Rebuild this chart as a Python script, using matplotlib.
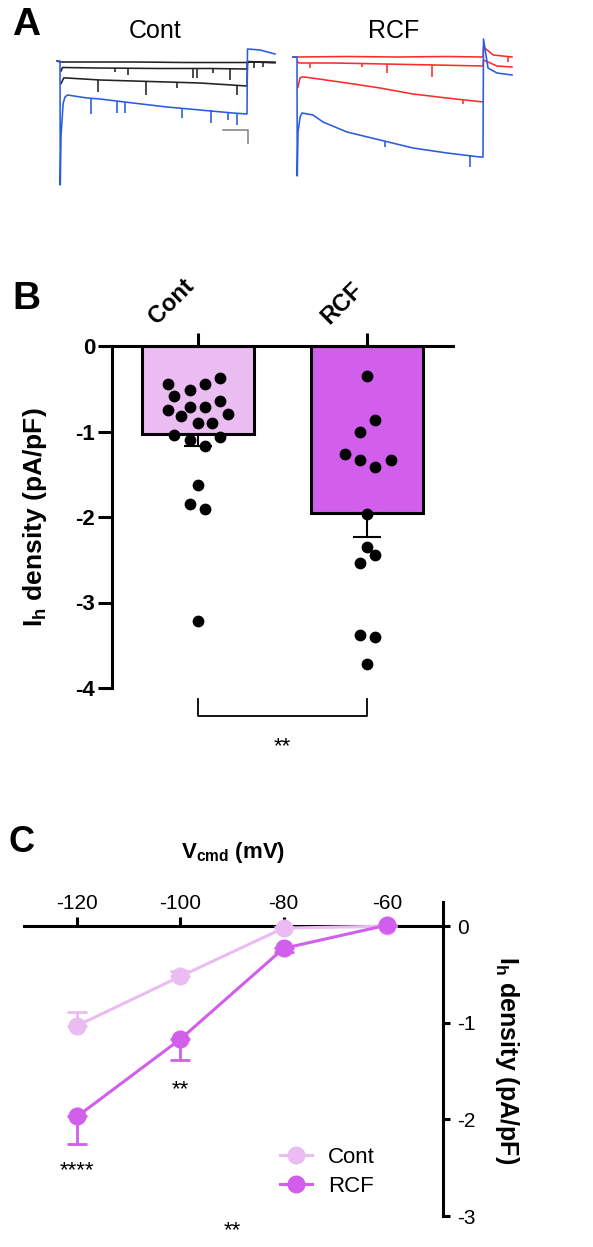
import matplotlib
matplotlib.use("Agg")
import matplotlib.pyplot as plt
import numpy as np

plt.rcParams['font.family'] = ['Liberation Sans', 'DejaVu Sans']
plt.rcParams['mathtext.fontset'] = 'custom'
plt.rcParams['mathtext.rm'] = 'Liberation Sans'
plt.rcParams['mathtext.bf'] = 'Liberation Sans:bold'
plt.rcParams['mathtext.it'] = 'Liberation Sans:italic'
plt.rcParams['axes.unicode_minus'] = False

LIGHT = '#EBBCF2'
PURPLE = '#D15FEC'
BLUE = '#2A5BE0'
RED = '#FF2A2A'
TRACE_BLACK = '#222222'

# ---- A: example traces, time (ms) / current (pA) ----
cont_blue_t = [-24, 0, 2, 8, 25, 40, 60, 216, 320, 584, 856, 1120, 1384, 1496, 1500, 1600, 1720]
cont_blue_i = [0, 0, -496, -300, -170, -144, -136, -148, -152, -168, -184, -196, -208, -212, 48, 44, 28]
cont_k1_t = [-24, 0, 200, 600, 1000, 1496, 1500, 1600, 1720]
cont_k1_i = [0, -4, -4, -4, -6, -6, -2, -4, -6]
cont_k2_t = [8, 20, 300, 800, 1200, 1496, 1500, 1720]
cont_k2_i = [-40, -26, -28, -30, -30, -32, -4, -6]
cont_k3_t = [8, 30, 56, 320, 856, 1120, 1496, 1500, 1720]
cont_k3_i = [-90, -68, -68, -76, -84, -88, -100, -4, -6]

rcf_blue_t = [-32, 0, 2, 8, 25, 40, 128, 208, 400, 664, 928, 1200, 1464, 1488, 1492, 1528, 1600, 1720]
rcf_blue_i = [0, 0, -476, -300, -240, -224, -232, -260, -300, -332, -364, -384, -400, -400, 72, -44, -64, -72]
rcf_r1_t = [-32, 0, 400, 800, 1200, 1488, 1492, 1570, 1720]
rcf_r1_i = [0, 0, 2, 0, 2, 0, 40, 8, 0]
rcf_r2_t = [8, 16, 300, 700, 1100, 1488, 1492, 1600, 1720]
rcf_r2_i = [-20, -24, -24, -28, -32, -36, -12, -36, -40]
rcf_r3_t = [8, 24, 40, 60, 400, 664, 928, 1200, 1488]
rcf_r3_i = [-120, -84, -80, -80, -104, -124, -148, -164, -180]

# spontaneous events: time, trace level, peak
cont_ev_t = [440, 547, 1061, 1099, 1227, 1360, 301, 688, 933, 1413, 1552, 1627]
cont_ev_top = [-28, -28, -30, -30, -30, -30, -76, -84, -86, -96, -4, -4]
cont_ev_bot = [-44, -56, -68, -68, -48, -76, -124, -136, -108, -136, -28, -24]
cont_blue_ev_t = [245, 459, 520, 973, 1205, 1347, 1419]
cont_blue_ev_top = [-150, -160, -164, -186, -196, -204, -208]
cont_blue_ev_bot = [-212, -208, -208, -228, -248, -236, -256]
rcf_ev_t = [104, 520, 720, 1080, 1328, 1688]
rcf_ev_top = [-24, -26, -28, -30, -172, 0]
rcf_ev_bot = [-44, -40, -64, -80, -188, -20]
rcf_blue_ev_t = [704, 1384]
rcf_blue_ev_top = [-336, -392]
rcf_blue_ev_bot = [-360, -440]

# ---- B: Ih density per cell (pA/pF) ----
groups = ['Cont', 'RCF']
cont_vals = [-0.45, -0.58, -0.52, -0.45, -0.37, -0.75, -0.71, -0.71, -0.64, -0.79, -0.82,
             -0.90, -0.90, -1.04, -1.10, -1.07, -1.17, -1.63, -1.85, -1.91, -3.22]
cont_jit = [-0.18, -0.14, -0.05, 0.04, 0.13, -0.18, -0.05, 0.04, 0.13, 0.18, -0.10,
            0.0, 0.08, -0.14, -0.05, 0.13, 0.04, 0.0, -0.05, 0.04, 0.0]
rcf_vals = [-0.35, -0.86, -1.01, -1.26, -1.33, -1.42, -1.33, -1.96, -2.35, -2.45, -2.54,
            -3.38, -3.40, -3.72]
rcf_jit = [0.0, 0.05, -0.04, -0.13, -0.04, 0.05, 0.14, 0.0, 0.0, 0.05, -0.04, -0.04, 0.05, 0.0]

# ---- C: I-V relation ----
vcmd = [-120, -100, -80, -60]
cont_iv = [-1.03, -0.52, -0.02, 0.0]
cont_iv_err = [0.14, 0.06, 0.01, 0.01]
rcf_iv = [-1.97, -1.17, -0.23, 0.01]
rcf_iv_err = [0.28, 0.22, 0.04, 0.01]

W, H = 593, 1247
fig = plt.figure(figsize=(W / 100, H / 100), dpi=100)


def rect(x0, y0, x1, y1):
    return [x0 / W, 1 - y1 / H, (x1 - x0) / W, (y1 - y0) / H]


# ---------------- A ----------------
axa1 = fig.add_axes(rect(50, 40, 280, 190))
axa2 = fig.add_axes(rect(285, 36, 515, 186))
for ax in (axa1, axa2):
    ax.set_xlim(-80, 1760)
    ax.set_ylim(-516, 84)
    ax.axis('off')
axa2.set_xlim(-96, 1744)

LW_TR = 1.15
for t, i in [(cont_k1_t, cont_k1_i), (cont_k2_t, cont_k2_i), (cont_k3_t, cont_k3_i)]:
    axa1.plot(t, i, color=TRACE_BLACK, lw=LW_TR, zorder=2)
axa1.vlines(cont_ev_t, cont_ev_top, cont_ev_bot, color=TRACE_BLACK, lw=LW_TR, zorder=2)
axa1.plot(cont_blue_t, cont_blue_i, color=BLUE, lw=LW_TR, zorder=3)
axa1.vlines(cont_blue_ev_t, cont_blue_ev_top, cont_blue_ev_bot, color=BLUE, lw=LW_TR, zorder=3)
# scale bar
axa1.plot([1300, 1500, 1500], [-276, -276, -326], color='#888888', lw=1.2)

for t, i in [(rcf_r1_t, rcf_r1_i), (rcf_r2_t, rcf_r2_i), (rcf_r3_t, rcf_r3_i)]:
    axa2.plot(t, i, color=RED, lw=LW_TR, zorder=2)
axa2.vlines(rcf_ev_t, rcf_ev_top, rcf_ev_bot, color=RED, lw=LW_TR, zorder=2)
axa2.plot(rcf_blue_t, rcf_blue_i, color=BLUE, lw=LW_TR, zorder=3)
axa2.vlines(rcf_blue_ev_t, rcf_blue_ev_top, rcf_blue_ev_bot, color=BLUE, lw=LW_TR, zorder=3)

fig.text(155 / W, 1 - 31 / H, 'Cont', fontsize=18, ha='center', va='center')
fig.text(394 / W, 1 - 31 / H, 'RCF', fontsize=18, ha='center', va='center')

# ---------------- B ----------------
axb = fig.add_axes(rect(112, 346, 453, 688))
vals = [cont_vals, rcf_vals]
jits = [cont_jit, rcf_jit]
means = [np.mean(v) for v in vals]
sems = [np.std(v, ddof=1) / np.sqrt(len(v)) for v in vals]
pos = np.arange(len(groups))
axb.bar(pos, means, width=0.66, color=[LIGHT, PURPLE], edgecolor='black', linewidth=2.2, zorder=2)
axb.errorbar(pos, means, yerr=[sems, [0, 0]], fmt='none', ecolor='black',
             elinewidth=1.5, capsize=10, capthick=1.5, zorder=3)
for p, v, j in zip(pos, vals, jits):
    axb.scatter(p + np.array(j), v, s=72, color='black', zorder=4, clip_on=False, linewidths=0)
axb.set_xlim(-0.51, 1.51)
axb.set_ylim(-4, 0)
axb.spines['right'].set_visible(False)
axb.spines['bottom'].set_visible(False)
axb.spines['top'].set_linewidth(2.2)
axb.spines['left'].set_linewidth(2.2)
axb.xaxis.tick_top()
axb.set_xticks(pos)
axb.set_xticklabels(groups, rotation=45, ha='right', fontsize=17, fontweight='bold')
axb.tick_params(axis='x', length=9.5, width=2.2, pad=3)
for lab in axb.get_xticklabels():
    lab.set_x(lab.get_position()[0])
axb.set_yticks([0, -1, -2, -3, -4])
axb.set_yticklabels(['0', '-1', '-2', '-3', '-4'], fontsize=16, fontweight='bold')
axb.tick_params(axis='y', length=10, width=2.2, pad=2)
axb.set_ylabel(r'$\mathbf{I_h}$ density (pA/pF)', fontsize=19, fontweight='bold')
axb.yaxis.set_label_coords((35 - 112) / 341, 0.5)
axb.yaxis.label.set_va('center')

# significance bracket
axb.plot([0, 0, 1, 1], [-4.13, -4.33, -4.33, -4.13], color='black', lw=1.3, clip_on=False)
axb.text(0.5, -4.69, '**', ha='center', va='center', fontsize=16)

# ---------------- C ----------------
axc = fig.add_axes(rect(24, 902, 443, 1216))
axc.set_xlim(-130.3, -49.1)
axc.set_ylim(-3, 0.25)
axc.spines['left'].set_visible(False)
axc.spines['bottom'].set_visible(False)
axc.spines['top'].set_position(('data', 0))
axc.spines['top'].set_linewidth(2.2)
axc.spines['right'].set_linewidth(2.2)
axc.xaxis.tick_top()
axc.yaxis.tick_right()

axc.errorbar(vcmd, cont_iv, yerr=[np.zeros(len(vcmd)), cont_iv_err], fmt='none', ecolor=LIGHT,
             elinewidth=2, capsize=7, capthick=2, zorder=3)
axc.errorbar(vcmd, rcf_iv, yerr=[rcf_iv_err, np.zeros(len(vcmd))], fmt='none', ecolor=PURPLE,
             elinewidth=2, capsize=7, capthick=2, zorder=4)
axc.plot(vcmd, cont_iv, '-o', color=LIGHT, ms=12, lw=2.2, label='Cont', zorder=5, clip_on=False)
axc.plot(vcmd, rcf_iv, '-o', color=PURPLE, ms=12, lw=2.2, label='RCF', zorder=6, clip_on=False)

axc.set_xticks(vcmd)
axc.set_xticklabels([str(v) for v in vcmd], fontsize=15)
axc.tick_params(axis='x', length=6.5, width=2.2, pad=3)
axc.set_yticks([0, -1, -2, -3])
axc.set_yticklabels(['0', '-1', '-2', '-3'], fontsize=15)
axc.tick_params(axis='y', length=5, width=2.2, pad=5)

axc.xaxis.set_label_position('top')
axc.set_xlabel(r'$\mathbf{V_{cmd}}$ (mV)', fontsize=16, fontweight='bold')
axc.xaxis.set_label_coords(0.5, (1216 - 853) / 314)
axc.xaxis.label.set_va('center')

axc.yaxis.set_label_position('right')
axc.set_ylabel(r'$\mathbf{I_h}$ density (pA/pF)', fontsize=18, fontweight='bold', rotation=270)
axc.yaxis.set_label_coords((507 - 24) / 419, (1216 - 1060) / 314)
axc.yaxis.label.set_va('center')
axc.yaxis.label.set_ha('center')

axc.text(-120, -2.53, '****', ha='center', va='center', fontsize=16)
axc.text(-100, -1.69, '**', ha='center', va='center', fontsize=16)
axc.text(-90, -3.15, '**', ha='center', va='center', fontsize=16, clip_on=False)

axc.legend(loc='center left', bbox_to_anchor=((280 - 24) / 419, (1216 - 1172) / 314),
           frameon=False, fontsize=16, handlelength=1.45, handletextpad=0.7,
           labelspacing=0.35, borderpad=0, borderaxespad=0, markerscale=1.0)

# panel letters
fig.text(12 / W, 1 - 25 / H, 'A', fontsize=28, fontweight='bold', va='center')
fig.text(12 / W, 1 - 299 / H, 'B', fontsize=28, fontweight='bold', va='center')
fig.text(9 / W, 1 - 843 / H, 'C', fontsize=26, fontweight='bold', va='center')

fig.savefig('out.png', dpi=100)
